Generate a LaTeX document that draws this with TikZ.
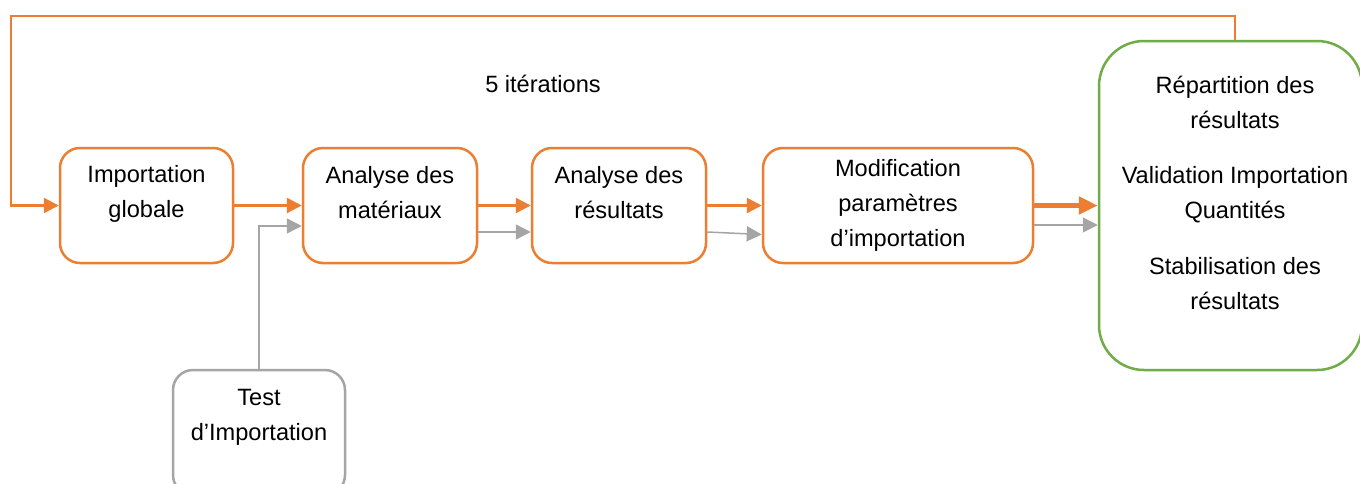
\documentclass[tikz,border=0pt]{standalone}
\usepackage{fontspec}
\setmainfont{Liberation Sans}
\usetikzlibrary{arrows.meta,calc}
\definecolor{orng}{HTML}{ED7D31}
\definecolor{grn}{HTML}{70AD47}
\definecolor{gry}{HTML}{A5A5A5}
\tikzset{
  obox/.style={draw=orng,line width=2.5pt,rounded corners=20pt,minimum height=115pt,inner sep=0pt},
  gbox/.style={draw=gry,line width=2.5pt,rounded corners=20pt,minimum width=172pt,minimum height=125pt,inner sep=0pt},
  grbox/.style={draw=grn,line width=2.5pt,rounded corners=45pt,minimum width=263pt,minimum height=329pt,inner sep=0pt},
  lbl/.style={font=\fontsize{23.6}{35}\selectfont,align=center,inner sep=0pt},
  oarr/.style={draw=orng,line width=2.5pt,-{Triangle[length=15pt,width=15pt]}},
  tarr/.style={draw=orng,line width=5pt,-{Triangle[length=19pt,width=17pt]}},
  garr/.style={draw=gry,line width=1.5pt,-{Triangle[length=15pt,width=15pt]}},
}
\begin{document}
\begin{tikzpicture}[x=1pt,y=-1pt]
\clip (0,0) rectangle (1360,483);
\fill[white] (0,0) rectangle (1360,483);
% boxes
\node[obox,minimum width=173pt] (b1) at (146.5,205.5) {};
\node[obox,minimum width=174pt] (b2) at (390,205.5) {};
\node[obox,minimum width=174pt] (b3) at (619,205.5) {};
\node[obox,minimum width=270pt] (b4) at (898,205.5) {};
\node[grbox] (g) at (1230.5,205.5) {};
\node[gbox] (t) at (259,432.5) {};
% texts
\node[lbl] (b1t) at (146.5,194) {Importation\\globale};
\node[lbl] (b2t) at (390,193) {Analyse des\\matériaux};
\node[lbl] (b3t) at (619,193) {Analyse des\\résultats};
\node[lbl] (b4t) at (898,205) {Modification\\paramètres\\d’importation};
\node[lbl] (gt) at (1235,193) {Répartition des\\résultats\\[20pt]Validation Importation\\Quantités\\[21pt]Stabilisation des\\résultats};
\node[lbl] (tt) at (259,417) {Test\\d’Importation};
\node[lbl] (it) at (543,84) {5 itérations};
% orange connectors
\draw[oarr] (b1.east) -- (b2.west);
\draw[oarr] (b2.east) -- (b3.west);
\draw[oarr] (b3.east) -- (b4.west);
\draw[tarr] (b4.east) -- (g.west);
\draw[oarr] ([xshift=4.5pt]g.north) |- (11,16) |- (b1.west);
% grey connectors
\draw[garr] (t.north) |- ([yshift=-20.5pt]b2.west);
\draw[garr] ([yshift=-26.5pt]b2.east) -- ([yshift=-26.5pt]b3.west);
\draw[garr] ([yshift=-26.5pt]b3.east) -- ([yshift=-29pt]b4.west);
\draw[garr] ([yshift=-19.5pt]b4.east) -- ([yshift=-19.5pt]g.west);
\end{tikzpicture}
\end{document}
